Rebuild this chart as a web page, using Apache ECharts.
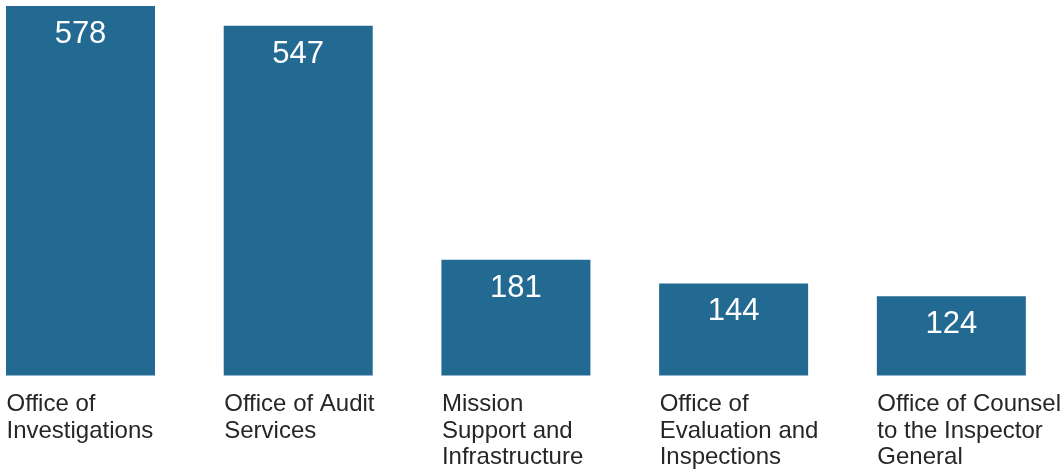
<!DOCTYPE html>
<html>
<head>
<meta charset="utf-8"/>
<title>Staff by office</title>
<script src="https://cdn.jsdelivr.net/npm/echarts@6/dist/echarts.min.js"></script>
<style>
	html, body { margin: 0; padding: 0; background: #fff; }
	#chart { width: 1064px; height: 471px; }
</style>
</head>
<body>
<div id="chart"></div>
<script>
	// categories as they wrap in the original
	var offices = [
		'Office of\nInvestigations',
		'Office of Audit\nServices',
		'Mission\nSupport and\nInfrastructure',
		'Office of\nEvaluation and\nInspections',
		'Office of Counsel\nto the Inspector\nGeneral'
	];
	var staffCounts = [578, 547, 181, 144, 124];

	var barColor = '#236a93';

	var option = {
		backgroundColor: '#fff',
		animation: false,
		// boundaryGap off: first/last category sit on the grid edges
		grid: {
			left: 80.5,
			right: 110.5,
			top: 6,
			bottom: 95
		},
		xAxis: {
			type: 'category',
			boundaryGap: false,
			data: offices,
			axisLine: {show: false},
			axisTick: {show: false},
			axisLabel: {
				interval: 0,
				margin: 16,
				align: 'left',
				padding: [0, 0, 0, -74],
				color: '#262626',
				fontSize: 24,
				lineHeight: 26.5,
				fontFamily: 'Liberation Sans, Arial, sans-serif'
			}
		},
		yAxis: {
			type: 'value',
			min: 0,
			max: 578,
			show: false,
			splitLine: {show: false}
		},
		series: [{
			type: 'bar',
			barWidth: 149,
			clip: false,
			data: staffCounts,
			itemStyle: {color: barColor},
			label: {
				show: true,
				position: 'insideTop',
				distance: 13,
				color: '#fff',
				fontSize: 31,
				fontFamily: 'Liberation Sans, Arial, sans-serif'
			}
		}]
	};

	var chart = echarts.init(document.getElementById('chart'));
	chart.setOption(option);
</script>
</body>
</html>
